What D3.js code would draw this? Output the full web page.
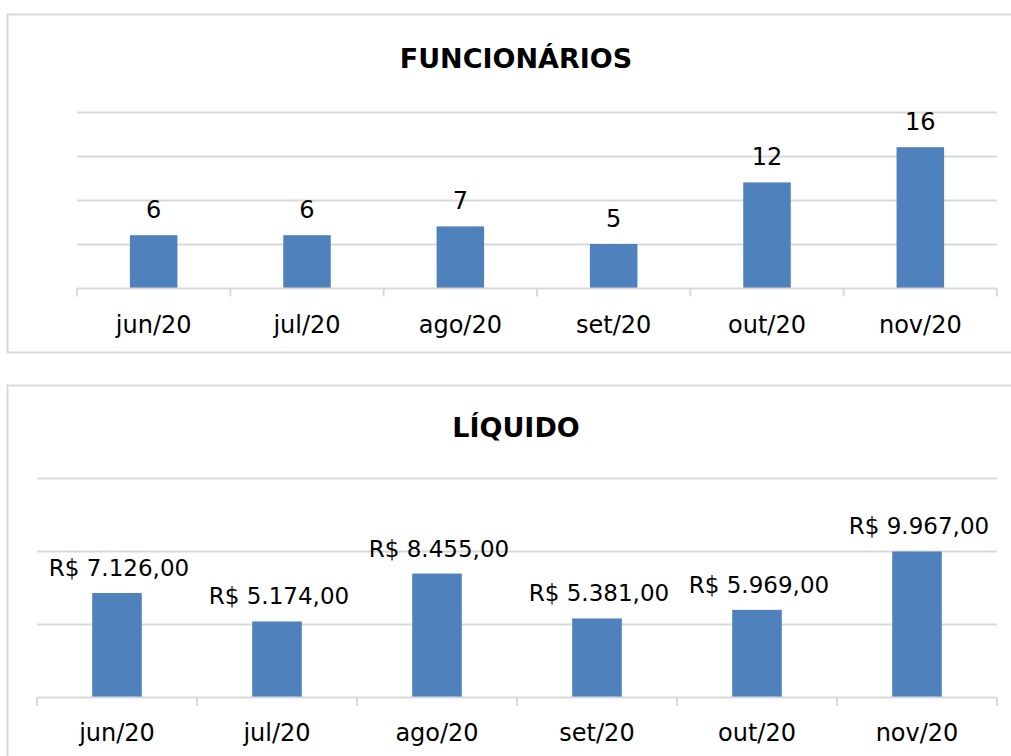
<!DOCTYPE html>
<html>
<head>
<meta charset="utf-8">
<script src="https://cdn.jsdelivr.net/npm/d3@7"></script>
<style>
  html, body { margin: 0; padding: 0; background: #fff; }
  svg { display: block; }
  text { font-family: "DejaVu Sans", sans-serif; fill: #000; }
</style>
</head>
<body>
<svg id="chart" width="1011" height="756"></svg>
<script>
// ---- data ----
const categories = ["jun/20", "jul/20", "ago/20", "set/20", "out/20", "nov/20"];
const funcionarios = [6, 6, 7, 5, 12, 16];
const funcionariosTicks = [0, 5, 10, 15, 20];
const liquido = [7126, 5174, 8455, 5381, 5969, 9967];
const liquidoTicks = [0, 5000, 10000, 15000];
const titles = ["FUNCIONÁRIOS", "LÍQUIDO"];

const svg = d3.select("#chart");
const BAR = "#4F81BD";
const GRID = "#D9D9D9";

const brl = v => "R$ " + d3.formatLocale({decimal: ",", thousands: ".", grouping: [3], currency: ["R$ ", ""]}).format(",.2f")(v);

function drawChart(cfg) {
  const g = svg.append("g");
  // card border
  g.append("rect")
    .attr("x", cfg.card.x + 0.5).attr("y", cfg.card.y + 0.5)
    .attr("width", cfg.card.w).attr("height", cfg.card.h)
    .attr("fill", "#fff").attr("stroke", GRID).attr("stroke-width", 2);

  // title
  g.append("text")
    .attr("x", 516).attr("y", cfg.titleY)
    .attr("text-anchor", "middle")
    .attr("font-weight", "bold")
    .attr("font-size", 27)
    .text(cfg.title);

  const x = d3.scaleBand().domain(categories).range([cfg.x0, cfg.x1]).paddingInner(0.69).paddingOuter(0.345);
  const xb = d3.scaleBand().domain(categories).range([cfg.x0, cfg.x1]);
  const y = d3.scaleLinear().domain([0, cfg.ticks[cfg.ticks.length - 1]]).range([cfg.yBase, cfg.yTop]);

  // gridlines
  g.append("g").selectAll("line").data(cfg.ticks.slice(1)).join("line")
    .attr("x1", cfg.x0).attr("x2", cfg.x1)
    .attr("y1", d => Math.round(y(d)) + 0.5).attr("y2", d => Math.round(y(d)) + 0.5)
    .attr("stroke", GRID).attr("stroke-width", 2);

  // bars
  g.append("g").selectAll("rect").data(cfg.values).join("rect")
    .attr("x", (d, i) => x(categories[i]))
    .attr("width", x.bandwidth())
    .attr("y", d => y(d))
    .attr("height", d => y(0) - y(d))
    .attr("fill", BAR);

  // x axis line + ticks
  const axisY = Math.round(y(0)) + 0.5;
  g.append("line").attr("x1", cfg.x0).attr("x2", cfg.x1)
    .attr("y1", axisY).attr("y2", axisY).attr("stroke", GRID).attr("stroke-width", 2);
  const tickXs = categories.map(c => xb(c)).concat([cfg.x1]);
  g.append("g").selectAll("line").data(tickXs).join("line")
    .attr("x1", d => d).attr("x2", d => d)
    .attr("y1", axisY).attr("y2", axisY + 8)
    .attr("stroke", GRID).attr("stroke-width", 2);

  // category labels
  g.append("g").selectAll("text").data(categories).join("text")
    .attr("x", d => xb(d) + xb.bandwidth() / 2)
    .attr("y", cfg.labelY)
    .attr("text-anchor", "middle")
    .attr("font-size", 24)
    .text(d => d);

  // value labels
  g.append("g").selectAll("text").data(cfg.values).join("text")
    .attr("x", (d, i) => x(categories[i]) + x.bandwidth() / 2 + cfg.valDx)
    .attr("y", d => y(d) - 17)
    .attr("text-anchor", "middle")
    .attr("font-size", cfg.valSize)
    .text(cfg.fmt);
}

drawChart({
  card: {x: 7, y: 14, w: 1040, h: 338},
  title: titles[0], titleY: 68,
  x0: 77, x1: 997, yBase: 288, yTop: 112,
  ticks: funcionariosTicks, values: funcionarios,
  labelY: 333, valSize: 24, valDx: 0, fmt: d => String(d)
});

drawChart({
  card: {x: 7, y: 385, w: 1040, h: 400},
  title: titles[1], titleY: 437,
  x0: 37, x1: 997, yBase: 697, yTop: 478,
  ticks: liquidoTicks, values: liquido,
  labelY: 741, valSize: 23, valDx: 2, fmt: d => brl(d)
});
</script>
</body>
</html>
